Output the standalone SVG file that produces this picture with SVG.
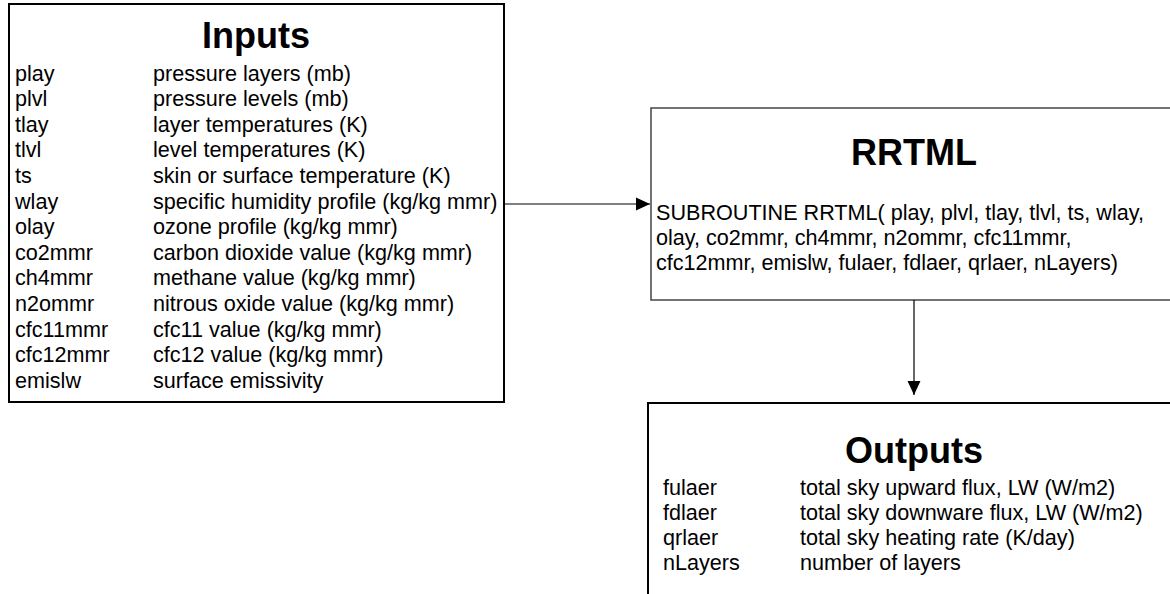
<svg xmlns="http://www.w3.org/2000/svg" width="1170" height="594" viewBox="0 0 1170 594">
<style>
  .t { font-family: "Liberation Sans", Arial, sans-serif; font-size: 21.6px; fill: #000; }
  .h { font-family: "Liberation Sans", Arial, sans-serif; font-size: 36px; font-weight: bold; fill: #000; text-anchor: middle; }
  .bx { fill: #fff; stroke: #000; stroke-width: 2; }
  .bx2 { fill: #fff; stroke: #444; stroke-width: 1.5; }
  .cn { stroke: #000; stroke-width: 1.2; fill: none; }
</style>
<defs>
  <marker id="ah" markerUnits="userSpaceOnUse" markerWidth="14" markerHeight="14" viewBox="0 0 13 12" refX="13" refY="6" orient="auto">
    <path d="M0,0 L13,6 L0,12 Z" fill="#000"/>
  </marker>
</defs>
<rect width="1170" height="594" fill="#fff"/>

<g id="inputs">
  <rect class="bx" x="9" y="4" width="495" height="398"/>
  <text class="h" x="256" y="48">Inputs</text>
  <g class="t">
    <text x="15" y="80.5">play</text><text x="153" y="80.5">pressure layers (mb)</text>
    <text x="15" y="106.1">plvl</text><text x="153" y="106.1">pressure levels (mb)</text>
    <text x="15" y="131.7">tlay</text><text x="153" y="131.7">layer temperatures (K)</text>
    <text x="15" y="157.3">tlvl</text><text x="153" y="157.3">level temperatures (K)</text>
    <text x="15" y="182.9">ts</text><text x="153" y="182.9">skin or surface temperature (K)</text>
    <text x="15" y="208.5">wlay</text><text x="153" y="208.5">specific humidity profile (kg/kg mmr)</text>
    <text x="15" y="234.1">olay</text><text x="153" y="234.1">ozone profile (kg/kg mmr)</text>
    <text x="15" y="259.7">co2mmr</text><text x="153" y="259.7">carbon dioxide value (kg/kg mmr)</text>
    <text x="15" y="285.3">ch4mmr</text><text x="153" y="285.3">methane value (kg/kg mmr)</text>
    <text x="15" y="310.9">n2ommr</text><text x="153" y="310.9">nitrous oxide value (kg/kg mmr)</text>
    <text x="15" y="336.5">cfc11mmr</text><text x="153" y="336.5">cfc11 value (kg/kg mmr)</text>
    <text x="15" y="362.1">cfc12mmr</text><text x="153" y="362.1">cfc12 value (kg/kg mmr)</text>
    <text x="15" y="387.7">emislw</text><text x="153" y="387.7">surface emissivity</text>
  </g>
</g>

<g id="rrtml">
  <rect class="bx2" x="651" y="108" width="600" height="192"/>
  <text class="h" x="914" y="165">RRTML</text>
  <g class="t">
    <text x="656" y="220">SUBROUTINE RRTML( play, plvl, tlay, tlvl, ts, wlay,</text>
    <text x="656" y="245">olay, co2mmr, ch4mmr, n2ommr, cfc11mmr,</text>
    <text x="656" y="270">cfc12mmr, emislw, fulaer, fdlaer, qrlaer, nLayers)</text>
  </g>
</g>

<g id="outputs">
  <rect class="bx" x="648" y="403" width="600" height="250"/>
  <text class="h" x="914" y="463">Outputs</text>
  <g class="t">
    <text x="663" y="495">fulaer</text><text x="800" y="495">total sky upward flux, LW (W/m2)</text>
    <text x="663" y="520">fdlaer</text><text x="800" y="520">total sky downware flux, LW (W/m2)</text>
    <text x="663" y="545">qrlaer</text><text x="800" y="545">total sky heating rate (K/day)</text>
    <text x="663" y="570">nLayers</text><text x="800" y="570">number of layers</text>
  </g>
</g>

<g id="connectors">
  <line class="cn" x1="505" y1="204" x2="650" y2="204" marker-end="url(#ah)"/>
  <line class="cn" x1="914" y1="300" x2="914" y2="395" marker-end="url(#ah)"/>
</g>
</svg>
